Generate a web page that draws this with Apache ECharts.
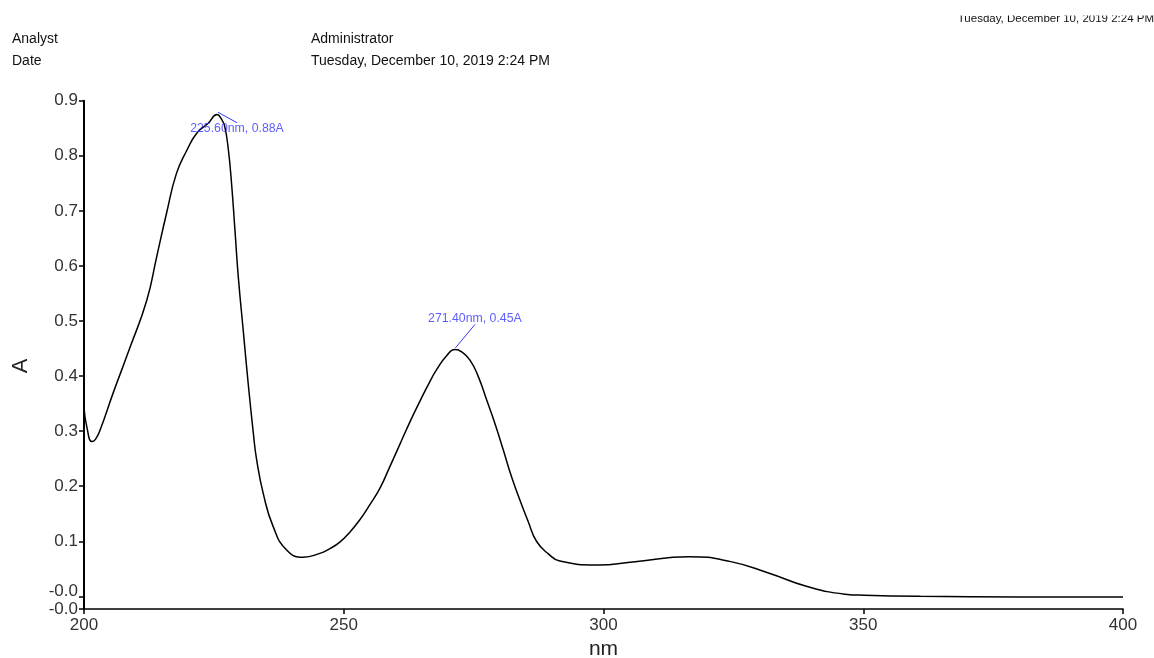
<!DOCTYPE html>
<html><head><meta charset="utf-8">
<script src="https://cdn.jsdelivr.net/npm/echarts@6/dist/echarts.min.js"></script>
<style>html,body{margin:0;padding:0;background:#fff}#c{width:1154px;height:658px}</style>
</head><body><div id="c"></div>
<script>
// Spectrum (nm, absorbance)
const wavelengthNm = [200.0, 200.6, 201.5, 202.2, 203.1, 205.6, 208.9, 212.1, 214.0, 215.9, 217.8, 219.8, 221.7, 223.9, 225.6, 226.5, 227.1, 227.8, 228.4, 229.1, 229.7, 230.7, 231.6, 232.6, 233.2, 234.5, 236.4, 239.0, 242.2, 245.4, 247.4, 249.3, 251.2, 253.1, 255.0, 257.0, 258.9, 260.8, 262.7, 264.7, 266.3, 267.9, 269.8, 271.4, 272.7, 274.3, 275.9, 277.5, 279.1, 280.7, 282.3, 283.9, 285.5, 287.1, 289.4, 291.6, 298.8, 306.1, 316.4, 324.5, 331.9, 339.2, 346.5, 350.2, 361.0, 380.0, 400.0];
const absorbance   = [0.342, 0.305, 0.281, 0.285, 0.302, 0.369, 0.453, 0.538, 0.617, 0.696, 0.768, 0.810, 0.841, 0.859, 0.875, 0.866, 0.853, 0.810, 0.750, 0.659, 0.580, 0.478, 0.387, 0.296, 0.250, 0.187, 0.127, 0.084, 0.071, 0.078, 0.087, 0.099, 0.117, 0.139, 0.166, 0.197, 0.236, 0.276, 0.316, 0.355, 0.385, 0.412, 0.437, 0.448, 0.444, 0.429, 0.399, 0.357, 0.314, 0.266, 0.217, 0.175, 0.136, 0.100, 0.077, 0.064, 0.057, 0.063, 0.072, 0.063, 0.042, 0.018, 0.004, 0.002, 0.000, -0.001, -0.001];
const peakNm = [225.6, 271.4];
const peakA = [0.88, 0.45];
const xTicks = [200, 250, 300, 350, 400];
const yMin = -0.023;
const yMinLabel = '-0.0';
const yTickValues = [-0.0005, 0.1, 0.2, 0.3, 0.4, 0.5, 0.6, 0.7, 0.8, 0.9];
const yTickLabels = ['-0.0', '0.1', '0.2', '0.3', '0.4', '0.5', '0.6', '0.7', '0.8', '0.9'];
const headerKeys = ['Analyst', 'Date'];
const headerValues = ['Administrator', 'Tuesday, December 10, 2019 2:24 PM'];
const printStamp = 'Tuesday, December 10, 2019 2:24 PM';

const FONT = '"Liberation Sans", Arial, sans-serif';
const chart = echarts.init(document.getElementById('c'), null, {renderer: 'canvas'});

function yLabel(v) {
  let best = 0, bd = Infinity;
  yTickValues.forEach((t, i) => { const d = Math.abs(t - v); if (d < bd) { bd = d; best = i; } });
  return best === 0 ? '{u|' + yTickLabels[0] + '}' : yTickLabels[best];
}

const labelOffsets = [{dx: 20, dy: 17}, {dx: 20, dy: -30}];
const yMax = yTickValues[yTickValues.length - 1];

const yLabelStyle = {fontSize: 17, color: '#333', margin: 6, fontFamily: FONT, hideOverlap: false};

chart.setOption({
  animation: false,
  backgroundColor: '#fff',
  textStyle: {fontFamily: FONT},
  grid: {left: 84, right: 31, top: 100.7, bottom: 49, containLabel: false, outerBoundsMode: 'none'},
  xAxis: {
    type: 'value', min: xTicks[0], max: xTicks[xTicks.length - 1], interval: 50,
    name: 'nm', nameLocation: 'middle', nameGap: 28,
    nameTextStyle: {fontSize: 21, color: '#222', fontFamily: FONT},
    axisLine: {show: true, onZero: false, lineStyle: {color: '#000', width: 1.5}},
    axisTick: {show: true, inside: false, length: 5, lineStyle: {color: '#000', width: 1.5}},
    axisLabel: {fontSize: 17, color: '#333', margin: 8, fontFamily: FONT},
    splitLine: {show: false}
  },
  yAxis: [
    {
      type: 'value', min: yMin, max: yMax,
      name: 'A', nameLocation: 'middle', nameGap: 52, nameRotate: 90,
      nameTextStyle: {fontSize: 22, color: '#222', fontFamily: FONT, padding: [0, 22, 0, 0]},
      axisLine: {show: true, onZero: false, lineStyle: {color: '#000', width: 2}},
      axisTick: {show: true, inside: false, length: 5, customValues: yTickValues, lineStyle: {color: '#000', width: 1.5}},
      axisLabel: Object.assign({}, yLabelStyle, {customValues: yTickValues, formatter: yLabel,
        rich: {u: {fontSize: 17, color: '#333', fontFamily: FONT, padding: [0, 0, 11, 0]}}}),
      splitLine: {show: false}
    },
    {
      type: 'value', min: yMin, max: yMax, position: 'left', offset: 0,
      axisLine: {show: false, onZero: false},
      axisTick: {show: true, inside: false, length: 5, customValues: [yMin], lineStyle: {color: '#000', width: 1.5}},
      axisLabel: Object.assign({}, yLabelStyle, {customValues: [yMin], formatter: () => yMinLabel}),
      splitLine: {show: false}
    }
  ],
  series: [
    {
      type: 'line',
      yAxisIndex: 0,
      data: wavelengthNm.map((x, i) => [x, absorbance[i]]),
      showSymbol: false,
      smooth: 0.5,
      lineStyle: {color: '#000', width: 1.5},
      z: 3
    },
    {
      type: 'scatter',
      yAxisIndex: 0,
      data: peakNm.map((x, i) => [x, peakA[i]]),
      symbolSize: 2,
      itemStyle: {color: 'rgba(0,0,0,0)'},
      label: {
        show: true, position: 'inside', color: '#3535ff', fontSize: 12.3, fontFamily: FONT,
        formatter: p => p.value[0].toFixed(2) + 'nm, ' + p.value[1].toFixed(2) + 'A'
      },
      labelLayout: p => labelOffsets[p.dataIndex],
      labelLine: {show: true, lineStyle: {color: '#3535ff', width: 1}},
      z: 5
    }
  ],
  graphic: [
    {type: 'text', left: 12, top: 32, style: {text: headerKeys[0], font: '14px ' + FONT, fill: '#111'}},
    {type: 'text', left: 12, top: 54, style: {text: headerKeys[1], font: '14px ' + FONT, fill: '#111'}},
    {type: 'text', left: 311, top: 32, style: {text: headerValues[0], font: '14px ' + FONT, fill: '#111'}},
    {type: 'text', left: 311, top: 54, style: {text: headerValues[1], font: '14px ' + FONT, fill: '#111'}},
    {type: 'text', right: 0, top: 13, style: {text: printStamp, font: '11.5px ' + FONT, fill: '#111'}, z: 1},
    {type: 'rect', left: 900, top: 0, shape: {width: 260, height: 15.5}, style: {fill: '#fff'}, z: 2}
  ]
});
</script></body></html>
